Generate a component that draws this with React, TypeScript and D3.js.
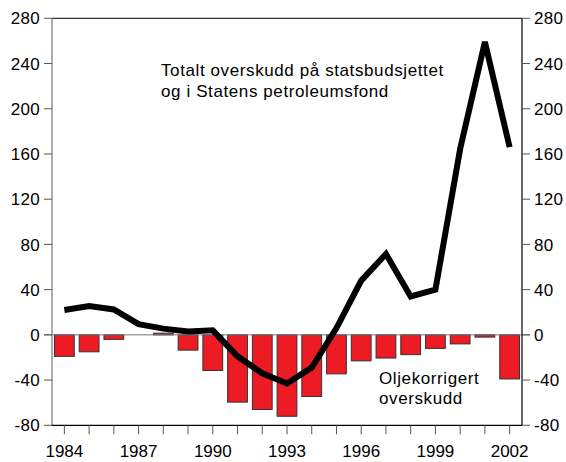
import React from "react";
import * as d3 from "d3";

const years = [1984,1985,1986,1987,1988,1989,1990,1991,1992,1993,1994,1995,1996,1997,1998,1999,2000,2001,2002];
const oilCorrected = [-19,-15,-4,0,1.5,-13.5,-31.5,-59.5,-66,-72,-54.5,-34.5,-23,-20.5,-17.5,-12,-8,-2,-39];
const totalSurplus = [22,25.5,22.5,9.5,5.5,3,4,-19,-34,-43,-29,6,48,71.5,34,40,164.5,259,166];
const yTicks = [-80,-40,0,40,80,120,160,200,240,280];
const xTickLabels = [1984,1987,1990,1993,1996,1999,2002];

const W = 566, H = 462;
const left = 52, right = 522, top = 18.3, bottom = 425.3;
const font = "Liberation Sans, Arial, sans-serif";

export default function App() {
  const x = d3.scaleBand<number>().domain(years).range([left, right]).paddingInner(0.2).paddingOuter(0.1);
  const y = d3.scaleLinear().domain([-80, 280]).range([bottom, top]);
  const cx = (yr: number) => (x(yr) as number) + x.bandwidth() / 2;
  const line = d3.line<number>().x((_, i) => cx(years[i])).y((v) => y(v));

  return (
    <svg width={W} height={H} style={{ position: "absolute", left: 0, top: 0, background: "#fff" }}>
      {/* bars */}
      {oilCorrected.map((v, i) => (
        <rect key={i} x={x(years[i])} width={x.bandwidth()}
          y={Math.min(y(v), y(0))} height={Math.abs(y(v) - y(0))}
          fill="#ED1C24" stroke="#333" strokeWidth={1} />
      ))}
      {/* zero line */}
      <line x1={left - 8} x2={right + 8} y1={y(0)} y2={y(0)} stroke="#777" strokeWidth={1} />
      {/* frame */}
      <line x1={left} x2={right} y1={top} y2={top} stroke="#000" strokeWidth={1} />
      <line x1={left} x2={left} y1={top} y2={bottom} stroke="#777" strokeWidth={1.2} />
      <line x1={right} x2={right} y1={top} y2={bottom} stroke="#000" strokeWidth={1.2} />
      <line x1={left} x2={right} y1={bottom} y2={bottom} stroke="#000" strokeWidth={1.2} />
      {/* y ticks */}
      {yTicks.map((t) => (
        <g key={t}>
          <line x1={left - 8} x2={left} y1={y(t)} y2={y(t)} stroke="#555" strokeWidth={1} />
          <line x1={right} x2={right + 8} y1={y(t)} y2={y(t)} stroke="#555" strokeWidth={1} />
          <text x={left - 12} y={y(t)} dy="0.36em" textAnchor="end" fontFamily={font} fontSize={17} letterSpacing={0.3} fill="#000">{t}</text>
          <text x={right + 12} y={y(t)} dy="0.36em" textAnchor="start" fontFamily={font} fontSize={17} letterSpacing={0.3} fill="#000">{t}</text>
        </g>
      ))}
      {/* x ticks */}
      {years.map((yr) => (
        <line key={yr} x1={cx(yr)} x2={cx(yr)} y1={bottom} y2={bottom + 9} stroke="#555" strokeWidth={1} />
      ))}
      {xTickLabels.map((yr) => (
        <text key={yr} x={cx(yr)} y={457} textAnchor="middle" fontFamily={font} fontSize={17} fill="#000">{yr}</text>
      ))}
      {/* line */}
      <path d={line(totalSurplus) || ""} fill="none" stroke="#000" strokeWidth={6} strokeLinejoin="miter" />
      {/* annotations */}
      <text fontFamily={font} fontSize={17} letterSpacing={0.6} fill="#000">
        <tspan x={161} y={76}>Totalt overskudd på statsbudsjettet</tspan>
        <tspan x={161} y={97}>og i Statens petroleumsfond</tspan>
      </text>
      <text fontFamily={font} fontSize={17} letterSpacing={0.6} fill="#000">
        <tspan x={379} y={384}>Oljekorrigert</tspan>
        <tspan x={379} y={404}>overskudd</tspan>
      </text>
    </svg>
  );
}
